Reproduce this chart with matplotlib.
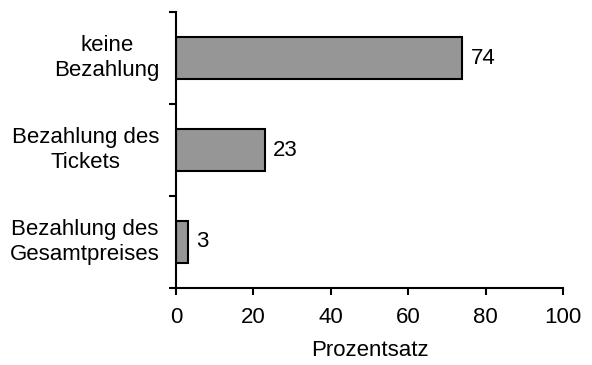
import matplotlib
matplotlib.use("Agg")
import matplotlib.pyplot as plt

plt.rcParams['font.family'] = ['Liberation Sans', 'DejaVu Sans']

# Daten (von unten nach oben)
kategorien = ["Bezahlung des\nGesamtpreises", "Bezahlung des\nTickets", "keine\nBezahlung"]
werte = [3, 23, 74]
x_ticks = [0, 20, 40, 60, 80, 100]

fs = 16

fig = plt.figure(figsize=(5.92, 3.65), dpi=100)
ax = fig.add_axes([0.2973, 0.211, 0.6537, 0.756])

pos = list(range(len(werte)))
ax.barh(pos, werte, height=0.46, color='#969696', edgecolor='black', linewidth=1.5)

for p, w in zip(pos, werte):
    ax.annotate(str(w), (w, p), xytext=(6, 0), textcoords='offset points',
                ha='left', va='center', fontsize=fs)

# Kategorienamen links, rechtsbündig als Block, zentriert innerhalb
for p, k in zip(pos, kategorien):
    ax.annotate(k, (0, p), xytext=(-12, 0), textcoords='offset points',
                ha='right', va='center', multialignment='center',
                fontsize=fs, linespacing=1.3)

ax.set_xlim(0, 100)
ax.set_ylim(-0.5, 2.5)
ax.set_xticks(x_ticks)
ax.set_yticks([-0.5, 0.5, 1.5, 2.5])
ax.set_yticklabels([])
ax.tick_params(axis='both', direction='out', length=5, width=1.5, labelsize=fs)
ax.tick_params(axis='x', pad=9)
ax.set_xlabel("Prozentsatz", fontsize=fs, labelpad=8)

for s in ['top', 'right']:
    ax.spines[s].set_visible(False)
for s in ['left', 'bottom']:
    ax.spines[s].set_linewidth(1.5)

fig.savefig("out.png", dpi=100)
